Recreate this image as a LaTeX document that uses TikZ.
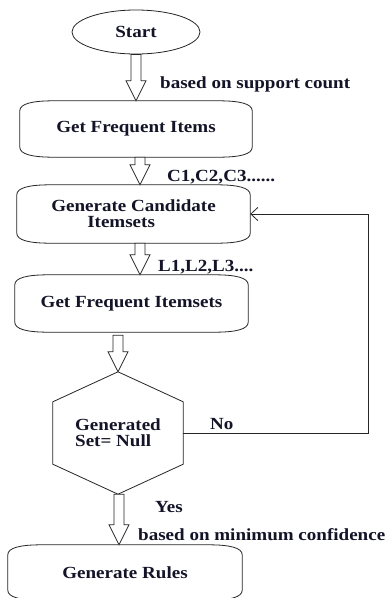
\documentclass[tikz,border=0pt]{standalone}
\usepackage{fontspec}
\newfontfamily\lblfont{Liberation Serif}[FakeStretch=1.12]
\usetikzlibrary{calc,shapes.geometric,arrows.meta}
\definecolor{ink}{RGB}{20,20,40}
\tikzset{
  txt/.style={font=\lblfont\bfseries\fontsize{17}{16}\selectfont, text=ink, inner sep=0pt},
  lbl/.style={txt, anchor=west},
  holder/.style={txt, draw=none, rectangle, inner sep=0pt},
  outl/.style={draw=black!85, line width=0.8pt},
  barrowstyle/.style={draw=black!85, line width=0.8pt, fill=white},
  loopline/.style={draw=black!85, line width=0.8pt, -{Straight Barb[length=7pt,width=13pt]}}
}
\newcommand\curvebox[1]{%
  \draw[outl] let \p1=(#1.north west), \p2=(#1.south east) in
    (\x1,\y1-10pt) .. controls (\x1,\y1-3pt) and (\x1+12pt,\y1) .. (\x1+34pt,\y1)
    -- (\x2-34pt,\y1) .. controls (\x2-12pt,\y1) and (\x2,\y1-3pt) .. (\x2,\y1-10pt)
    -- (\x2,\y2+10pt) .. controls (\x2,\y2+3pt) and (\x2-12pt,\y2) .. (\x2-34pt,\y2)
    -- (\x1+34pt,\y2) .. controls (\x1+12pt,\y2) and (\x1,\y2+3pt) .. (\x1,\y2+10pt) -- cycle;}
\newcommand\blockarrow[2]{%
  \draw[barrowstyle] let \p1=#1, \p2=#2 in
    (\x1-5pt,\y1) -- (\x1-5pt,\y2+20pt) -- (\x1-10pt,\y2+20pt) -- (\x1,\y2)
    -- (\x1+10pt,\y2+20pt) -- (\x1+5pt,\y2+20pt) -- (\x1+5pt,\y1) -- cycle;}
\begin{document}
\begin{tikzpicture}[x=1pt,y=-1pt]
\useasboundingbox[fill=white] (0,0) rectangle (385,598);
% nodes
\node[txt, draw=black!85, line width=0.8pt, ellipse, minimum width=128pt, minimum height=44pt] (start) at (136,32) {Start};
\node[holder, minimum width=232pt, minimum height=56pt] (b1) at (136,129) {Get Frequent Items};
\node[holder, minimum width=233pt, minimum height=58pt, align=left] (b2) at (133.5,214) {Generate Candidate\\\hspace*{36pt}Itemsets};
\node[holder, minimum width=233pt, minimum height=57pt] (b3) at (131.5,303.5) {Get Frequent Itemsets};
\node[holder, minimum width=130pt, minimum height=122pt, align=left] (hex) at (118,433) {Generated\\Set= Null};
\node[holder, minimum width=234pt, minimum height=55pt] (b4) at (125,572.5) {Generate Rules};
% outlines
\curvebox{b1}
\curvebox{b2}
\curvebox{b3}
\curvebox{b4}
\draw[outl] (hex.north) -- ($(hex.north west)+(0,30)$) -- ($(hex.south west)+(0,-30)$)
  -- (hex.south) -- ($(hex.south east)+(0,-30)$) -- ($(hex.north east)+(0,30)$) -- cycle;
% block arrows
\blockarrow{(start.south)}{(b1.north)}
\blockarrow{($(b1.south)+(4,0)$)}{(b2.north)}
\blockarrow{($(b2.south)+(6.5,0)$)}{(b3.north)}
\blockarrow{($(b3.south)+(-13.5,3)$)}{(hex.north)}
\blockarrow{($(hex.south)+(1,0)$)}{(b4.north)}
% loop
\coordinate (turn) at ($(hex.east)+(185,0)$);
\draw[loopline] (hex.east) -- (turn) |- (b2.east);
% labels
\node[lbl] (l1) at (160,84) {based on support count};
\node[lbl] (l2) at (167,177) {C1,C2,C3......};
\node[lbl] (l3) at (158,267) {L1,L2,L3....};
\node[lbl] (l4) at (210,424) {No};
\node[lbl] (l5) at (155,507) {Yes};
\node[lbl] (l6) at (138,535) {based on minimum confidence};
\end{tikzpicture}
\end{document}
